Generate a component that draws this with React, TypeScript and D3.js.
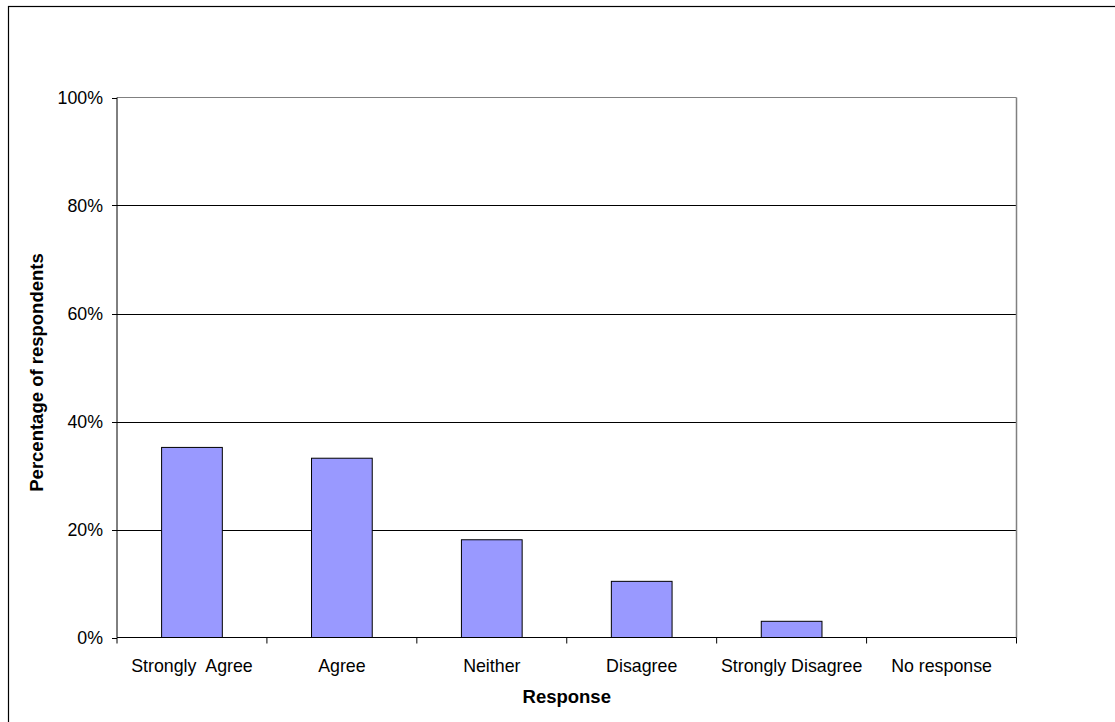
import React from "react";
import * as d3 from "d3";

const categories = ["Strongly  Agree", "Agree", "Neither", "Disagree", "Strongly Disagree", "No response"];
const values = [35.2, 33.2, 18.1, 10.4, 3.0, 0];
const yTicks = [0, 20, 40, 60, 80, 100];

const W = 1115;
const H = 722;
const margin = { left: 117, right: 1016.5, top: 97.5, bottom: 637.5 };
const FONT = "'Liberation Sans', Arial, Helvetica, sans-serif";

export default function App() {
  const x = d3
    .scaleBand<string>()
    .domain(categories)
    .range([margin.left, margin.right])
    .paddingInner(0)
    .paddingOuter(0);
  const y = d3.scaleLinear().domain([0, 100]).range([margin.bottom, margin.top]);
  const bw = x.bandwidth();
  const barW = bw * 0.405;

  return (
    <svg
      width={W}
      height={H}
      style={{ position: "absolute", left: 0, top: 0, background: "#fff" }}
      fontFamily={FONT}
    >
      <rect x={8.5} y={6.5} width={1120} height={730} fill="none" stroke="#000" strokeWidth={1.2} />
      {yTicks
        .filter((t) => t > 0 && t < 100)
        .map((t) => (
          <line key={t} x1={margin.left} x2={margin.right} y1={Math.round(y(t)) + 0.5} y2={Math.round(y(t)) + 0.5} stroke="#000" strokeWidth={1} />
        ))}
      <line x1={margin.left} x2={margin.right} y1={margin.top} y2={margin.top} stroke="#808080" strokeWidth={1} />
      <line x1={margin.right} x2={margin.right} y1={margin.top} y2={margin.bottom} stroke="#808080" strokeWidth={1.5} />
      {categories.map((c, i) =>
        values[i] > 0 ? (
          <rect
            key={c}
            x={(x(c) as number) + (bw - barW) / 2}
            y={y(values[i])}
            width={barW}
            height={y(0) - y(values[i])}
            fill="#9999FF"
            stroke="#000"
            strokeWidth={1}
          />
        ) : null
      )}
      <line x1={margin.left} x2={margin.left} y1={margin.top} y2={margin.bottom} stroke="#000" strokeWidth={1} />
      {yTicks.map((t) => (
        <g key={t}>
          <line x1={margin.left - 5} x2={margin.left} y1={Math.round(y(t)) + 0.5} y2={Math.round(y(t)) + 0.5} stroke="#000" />
          <text x={103} y={y(t)} dy="0.36em" textAnchor="end" fontSize={17.8} fill="#000">
            {t}%
          </text>
        </g>
      ))}
      <line x1={margin.left} x2={margin.right} y1={margin.bottom} y2={margin.bottom} stroke="#000" strokeWidth={1} />
      {categories.map((c, i) => (
        <line key={"t" + i} x1={x(c) as number} x2={x(c) as number} y1={margin.bottom} y2={margin.bottom + 6} stroke="#000" />
      ))}
      <line x1={margin.right} x2={margin.right} y1={margin.bottom} y2={margin.bottom + 6} stroke="#000" />
      {categories.map((c) => (
        <text
          key={"l" + c}
          x={(x(c) as number) + bw / 2}
          y={671.5}
          textAnchor="middle"
          fontSize={17.8}
          fill="#000"
          style={{ whiteSpace: "pre" }}
        >
          {c}
        </text>
      ))}
      <text x={(margin.left + margin.right) / 2} y={702.5} textAnchor="middle" fontSize={18.5} fontWeight="bold" fill="#000">
        Response
      </text>
      <text
        transform={`translate(43, ${(margin.top + margin.bottom) / 2 + 5}) rotate(-90)`}
        textAnchor="middle"
        fontSize={18.5}
        fontWeight="bold"
        fill="#000"
      >
        Percentage of respondents
      </text>
    </svg>
  );
}
